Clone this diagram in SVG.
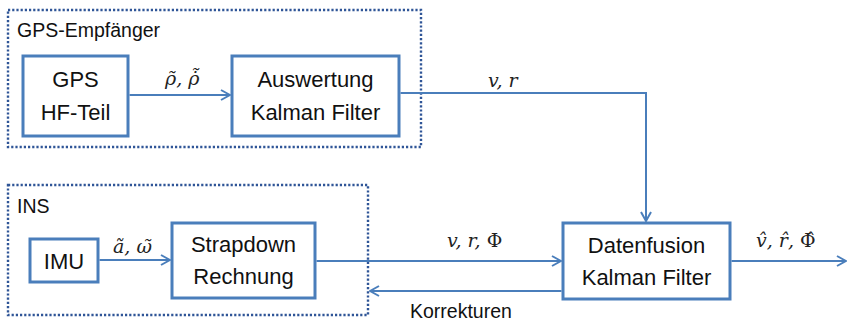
<svg xmlns="http://www.w3.org/2000/svg" width="848" height="322" viewBox="0 0 848 322">
<style>
.grp{fill:none;stroke:#2F5597;stroke-width:2.4;stroke-dasharray:2.2 2}
.box{fill:#fff;stroke:#4A7EBB;stroke-width:3}
.t{font-family:"Liberation Sans",Arial,sans-serif;font-size:22px;fill:#111;text-anchor:middle}
.g{font-family:"Liberation Sans",Arial,sans-serif;font-size:19.5px;fill:#111}
.m{font-family:"DejaVu Serif",serif;font-style:italic;font-size:19px;fill:#222}
.up{font-style:normal}
.ln{fill:none;stroke:#4A7EBB;stroke-width:2}
</style>
<defs>
<marker id="ah" viewBox="0 0 12 12" refX="11" refY="6" markerWidth="12" markerHeight="12" markerUnits="userSpaceOnUse" orient="auto">
<polyline points="2,1 11,6 2,11" fill="none" stroke="#4A7EBB" stroke-width="2"/>
</marker>
</defs>
<g id="gps-empfaenger">
<rect class="grp" x="8" y="10" width="413" height="137"/>
<text class="g" x="17" y="37">GPS-Empfänger</text>
</g>
<g id="ins">
<rect class="grp" x="8" y="185" width="360" height="130"/>
<text class="g" x="17" y="213">INS</text>
</g>
<g id="gps-hf">
<rect class="box" x="23" y="56" width="105" height="80"/>
<text class="t" x="75.5" y="87">GPS</text>
<text class="t" x="75.5" y="120">HF-Teil</text>
</g>
<g id="auswertung">
<rect class="box" x="232" y="56" width="167" height="80"/>
<text class="t" x="315.5" y="87">Auswertung</text>
<text class="t" x="315.5" y="120">Kalman Filter</text>
</g>
<g id="imu">
<rect class="box" x="30" y="239" width="68" height="43"/>
<text class="t" x="64" y="269">IMU</text>
</g>
<g id="strapdown">
<rect class="box" x="172" y="223" width="143" height="75"/>
<text class="t" x="243.5" y="252">Strapdown</text>
<text class="t" x="243.5" y="284">Rechnung</text>
</g>
<g id="datenfusion">
<rect class="box" x="563" y="223" width="167" height="76"/>
<text class="t" x="646.5" y="253">Datenfusion</text>
<text class="t" x="646.5" y="285">Kalman Filter</text>
</g>
<g id="connectors">
<line class="ln" x1="129.5" y1="95" x2="230" y2="95" marker-end="url(#ah)"/>
<polyline class="ln" points="400.5,93 646,93 646,221" marker-end="url(#ah)"/>
<line class="ln" x1="99.5" y1="260" x2="170" y2="260" marker-end="url(#ah)"/>
<line class="ln" x1="316.5" y1="261" x2="561" y2="261" marker-end="url(#ah)"/>
<line class="ln" x1="561.5" y1="291" x2="370" y2="291" marker-end="url(#ah)"/>
<line class="ln" x1="731.5" y1="261" x2="846" y2="261" marker-end="url(#ah)"/>
</g>
<g id="labels">
<text class="m" x="165" y="85">ρ̃, ρ̇̃</text>
<text class="m" x="488" y="87">v, r</text>
<text class="m" x="113" y="253">ã, ω̃</text>
<text class="m" x="447" y="247">v, r, <tspan class="up">Φ</tspan></text>
<text class="m" x="756" y="247">v̂, r̂, <tspan class="up">Φ̂</tspan></text>
<text class="g" x="410" y="318">Korrekturen</text>
</g>
</svg>
